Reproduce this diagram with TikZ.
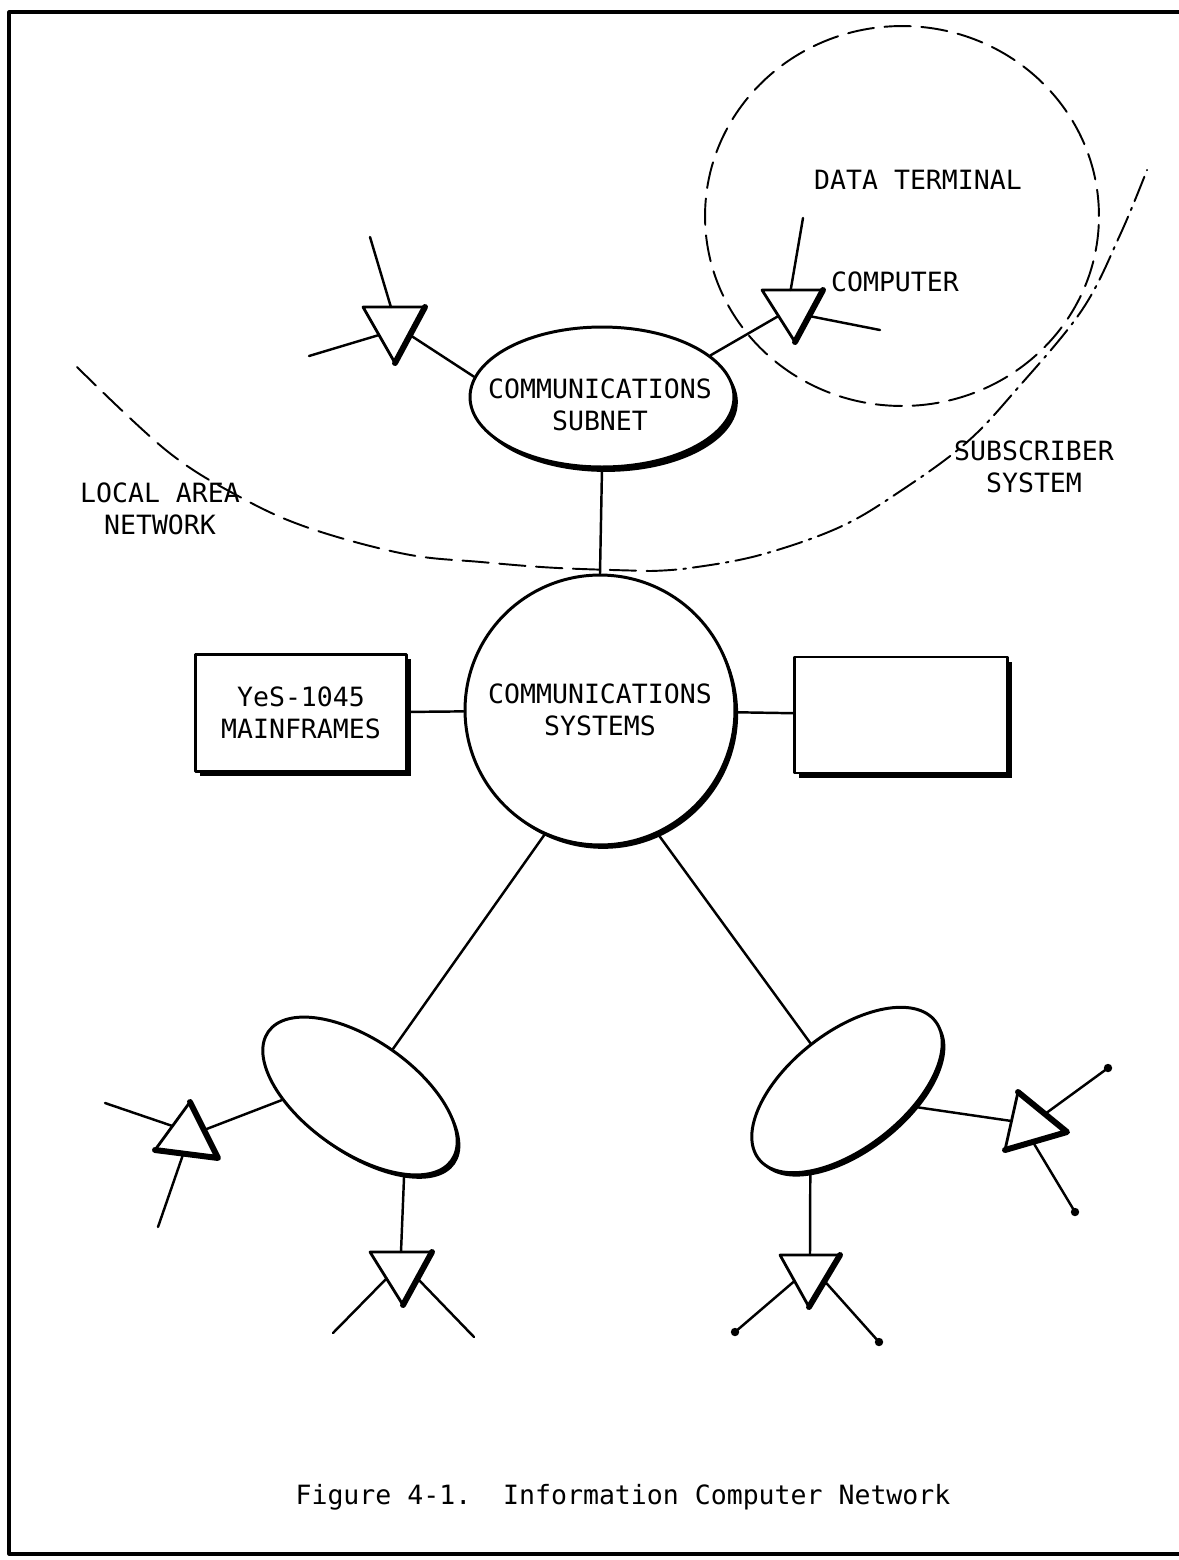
\documentclass[tikz,border=0pt]{standalone}
\usepackage{fontspec}
\newfontfamily\typefont{DejaVu Sans Mono}
\usepackage{tikz}
\usetikzlibrary{calc,shapes.geometric,shadows}

\begin{document}
\begin{tikzpicture}[x=0.02cm,y=-0.02cm,line cap=round,line join=round,
  font=\typefont\fontsize{15.1}{18.5}\selectfont,
  net/.style={line width=1.4pt},
  station/.style={line width=1.6pt},
  rim/.style={line width=3.4pt},
  hub/.style={draw,line width=1.7pt,fill=white,inner sep=0pt,align=center,
    drop shadow={shadow xshift=1.8pt,shadow yshift=-2.2pt,opacity=1,fill=black}},
  unit/.style={draw,line width=1.6pt,fill=white,inner sep=0pt,align=center,
    drop shadow={shadow xshift=2.4pt,shadow yshift=-2.6pt,opacity=1,fill=black}},
  boundary/.style={line width=1.1pt,dash pattern=on 15pt off 6pt},
  reach/.style={line width=1.1pt,dash pattern=on 15pt off 4pt on 1.5pt off 4pt}]
  \useasboundingbox (0,0) rectangle (1179,1560);
  \draw[line width=1.8pt] (1190,12) -- (9,12) -- (9,1554) -- (1190,1554);

  % dashed boundaries
  \draw[boundary] (902,216) ellipse [x radius=3.94cm,y radius=3.8cm];
  \draw[boundary] plot[smooth,tension=0.6] coordinates
    {(77,367) (167,451) (240,497) (309,528) (405,554) (481,562) (558,568) (650,571)};
  \draw[reach] plot[smooth,tension=0.6] coordinates
    {(650,571) (690,568) (760,555) (840,527) (902,490) (966,443) (1016,390) (1082,310) (1120,235) (1147,170)};

  % hubs and hosts
  \node[hub,ellipse,minimum width=5.28cm,minimum height=2.8cm,
    drop shadow={shadow xshift=2.2pt,shadow yshift=-2.8pt,opacity=1,fill=black}] (sub) at (602,397) {};
  \node[align=center] (subname) at (600,405) {COMMUNICATIONS\\SUBNET};
  \node[hub,circle,minimum size=5.4cm] (sys) at (600,710) {COMMUNICATIONS\\SYSTEMS};
  \node[unit,minimum width=4.22cm,minimum height=2.34cm] (mf) at (301,713) {YeS-1045\\MAINFRAMES};
  \node[unit,minimum width=4.26cm,minimum height=2.32cm] (spare) at (901,715) {};
  \node[hub,ellipse,minimum width=4.48cm,minimum height=2.24cm,rotate=-35] (lel) at (360,1096) {};
  \node[hub,ellipse,minimum width=4.48cm,minimum height=2.32cm,rotate=38] (rel) at (847,1090) {};

  \draw[net] (sub.south) -- (sys.north);
  \draw[net] (mf) -- (sys);
  \draw[net] (sys) -- (spare);
  \draw[net] (sys.-114) -- (lel.north);
  \draw[net] (sys.-65) -- (rel.north);

  % station left of subnet
  \coordinate (a1) at (363,307); \coordinate (b1) at (425,307); \coordinate (c1) at (395,363);
  \coordinate (t1r) at ($(b1)!.5!(c1)$);
  \coordinate (e1) at (370,237); \coordinate (e2) at (309,356);
  \draw[station] (a1) -- (b1) -- (c1) -- cycle;
  \draw[rim] (b1) -- (c1);
  \draw[net] (e1) -- ($(a1)!.45!(b1)$);
  \draw[net] (e2) -- ($(a1)!.5!(c1)$);
  \draw[net] (t1r) -- (sub.171);

  % computer station
  \coordinate (a2) at (762,290); \coordinate (b2) at (823,290); \coordinate (c2) at (795,342);
  \coordinate (t2l) at ($(a2)!.5!(c2)$);
  \coordinate (e3) at (803,218); \coordinate (e4) at (880,330);
  \draw[station] (a2) -- (b2) -- (c2) -- cycle;
  \draw[rim] (b2) -- (c2);
  \draw[net] (e3) -- ($(a2)!.47!(b2)$);
  \draw[net] ($(b2)!.5!(c2)$) -- (e4);
  \draw[net] (t2l) -- (sub.21);

  % stations on the left cluster
  \coordinate (a3) at (190,1102); \coordinate (b3) at (155,1150); \coordinate (c3) at (218,1158);
  \coordinate (t3r) at ($(a3)!.5!(c3)$);
  \coordinate (e5) at (105,1103); \coordinate (e6) at (158,1227);
  \draw[station] (a3) -- (b3) -- (c3) -- cycle;
  \draw[rim] (a3) -- (c3) -- (b3);
  \draw[net] (e5) -- ($(a3)!.5!(b3)$);
  \draw[net] ($(b3)!.45!(c3)$) -- (e6);
  \draw[net] (t3r) -- (lel.218);

  \coordinate (a4) at (370,1252); \coordinate (b4) at (432,1252); \coordinate (c4) at (403,1305);
  \coordinate (t4t) at ($(a4)!.5!(b4)$);
  \coordinate (e7) at (333,1333); \coordinate (e8) at (474,1337);
  \draw[station] (a4) -- (b4) -- (c4) -- cycle;
  \draw[rim] (b4) -- (c4);
  \draw[net] (lel.-26) -- (t4t);
  \draw[net] ($(a4)!.5!(c4)$) -- (e7);
  \draw[net] ($(b4)!.5!(c4)$) -- (e8);

  % stations on the right cluster
  \coordinate (a6) at (1018,1092); \coordinate (b6) at (1067,1132); \coordinate (c6) at (1005,1150);
  \coordinate (t6l) at ($(a6)!.5!(c6)$);
  \coordinate (e9) at (1108,1068); \coordinate (e10) at (1075,1212);
  \draw[station] (a6) -- (b6) -- (c6) -- cycle;
  \draw[rim] (a6) -- (b6) -- (c6);
  \draw[net] (rel.-52) -- (t6l);
  \draw[net] ($(a6)!.55!(b6)$) -- (e9);
  \draw[net] ($(b6)!.55!(c6)$) -- (e10);

  \coordinate (a7) at (780,1255); \coordinate (b7) at (840,1255); \coordinate (c7) at (809,1307);
  \coordinate (t7t) at ($(a7)!.5!(b7)$);
  \coordinate (e11) at (735,1332); \coordinate (e12) at (879,1342);
  \draw[station] (a7) -- (b7) -- (c7) -- cycle;
  \draw[rim] (b7) -- (c7);
  \draw[net] (rel.208) -- (t7t);
  \draw[net] ($(a7)!.5!(c7)$) -- (e11);
  \draw[net] ($(b7)!.5!(c7)$) -- (e12);
  \foreach \e in {e9,e10,e11,e12}
    \fill (\e) circle (2.4pt);

  % labels
  \node (dtname) at (918,180) {DATA TERMINAL};
  \node (cpname) at (895,282) {COMPUTER};
  \node[align=center] (ssname) at (1034,467) {SUBSCRIBER\\SYSTEM};
  \node[align=center] (lanname) at (160,509) {LOCAL AREA\\NETWORK};
  \node (caption) at (623,1497) {Figure 4-1.\ \ Information Computer Network};
\end{tikzpicture}
\end{document}
